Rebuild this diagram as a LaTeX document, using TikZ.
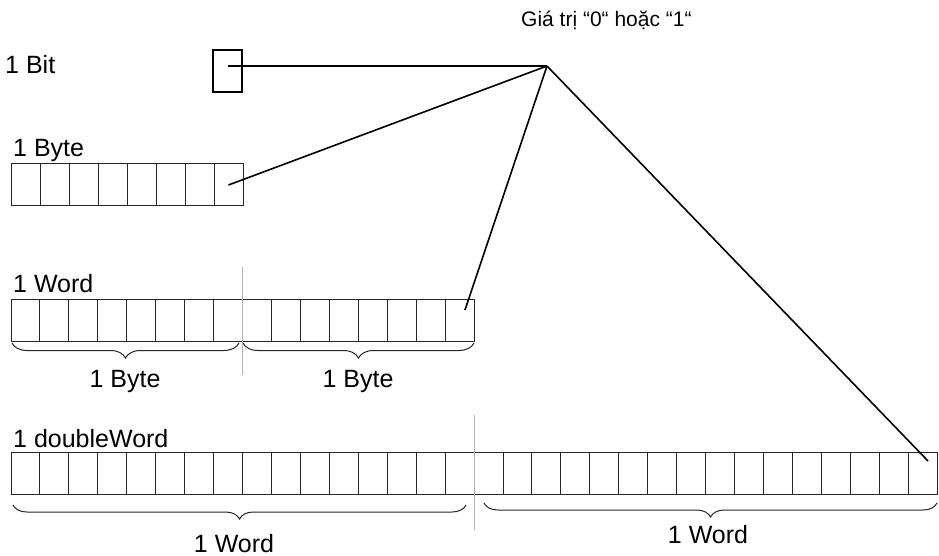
\documentclass[tikz,border=0pt]{standalone}
\usepackage{fontspec}
\setmainfont{Liberation Sans}
\usetikzlibrary{decorations.pathreplacing,calc}
\begin{document}
\begin{tikzpicture}[x=1pt,y=-1pt,
  cell/.style={draw=black!85,line width=0.9pt,minimum width=28.95pt,minimum height=42pt,inner sep=0,outer sep=0},
  link/.style={line width=1.6pt},
  divider/.style={draw=black!30,line width=1pt},
  lbl/.style={font=\fontsize{25}{30}\selectfont,anchor=base west,inner sep=0},
  clbl/.style={font=\fontsize{25}{30}\selectfont,anchor=base,inner sep=0},
  brc/.style={decorate,decoration={brace,mirror,amplitude=15pt},line width=1pt,draw=black!85}]
\useasboundingbox (0,0) rectangle (939,556);

% caption of the common target point
\node[font=\fontsize{21}{25}\selectfont,anchor=base west,inner sep=0] (cap) at (521,27) {Giá trị “0“ hoặc “1“};

% single bit
\node[lbl] (lbit) at (5,74) {1 Bit};
\node[draw,line width=1.4pt,minimum width=29pt,minimum height=42pt,inner sep=0] (bit) at (227.5,71) {};

% byte
\node[lbl] (lbyte) at (13,157) {1 Byte};
\foreach \i in {1,...,8}
  \node[cell,minimum width=29pt] (b\i) at ({11+(\i-0.5)*29},184) {};

% word
\node[lbl] (lword) at (13,292) {1 Word};
\foreach \i in {1,...,16}
  \node[cell] (w\i) at ({11+(\i-0.5)*28.94},320) {};
\draw[divider] (242,267) coordinate (wd1) -- (242,375) coordinate (wd2);
\draw[brc] (12,343) coordinate (wb1) -- (239,343) coordinate (wb2);
\draw[brc] (243,343) coordinate (wb3) -- (474,343) coordinate (wb4);
\node[clbl] (wl1) at (125,387) {1 Byte};
\node[clbl] (wl2) at (358,387) {1 Byte};

% double word
\node[lbl] (ldword) at (13,447) {1 doubleWord};
\foreach \i in {1,...,32}
  \node[cell] (d\i) at ({11+(\i-0.5)*28.94},473) {};
\draw[divider] (474,415) coordinate (dd1) -- (474,530) coordinate (dd2);
\draw[brc,decoration={amplitude=14pt}] (13,505) coordinate (db1) -- (466,505) coordinate (db2);
\draw[brc,decoration={amplitude=14pt}] (484,503) coordinate (db3) -- (937,503) coordinate (db4);
\node[clbl] (dl1) at (234,552) {1 Word};
\node[clbl] (dl2) at (708,543) {1 Word};

% connectors from the common point to the last cell of each unit
\coordinate (apex) at (547,66);
\coordinate (bitpt) at (228,66);
\draw[link] (bitpt) -- (apex);
\draw[link] (apex) -- ($(b8.center)+(0,1)$);
\draw[link] (apex) -- ($(w16.center)+(5.4,-10)$);
\draw[link] (apex) -- ($(d32.center)+(5.4,-12)$);
\end{tikzpicture}
\end{document}
